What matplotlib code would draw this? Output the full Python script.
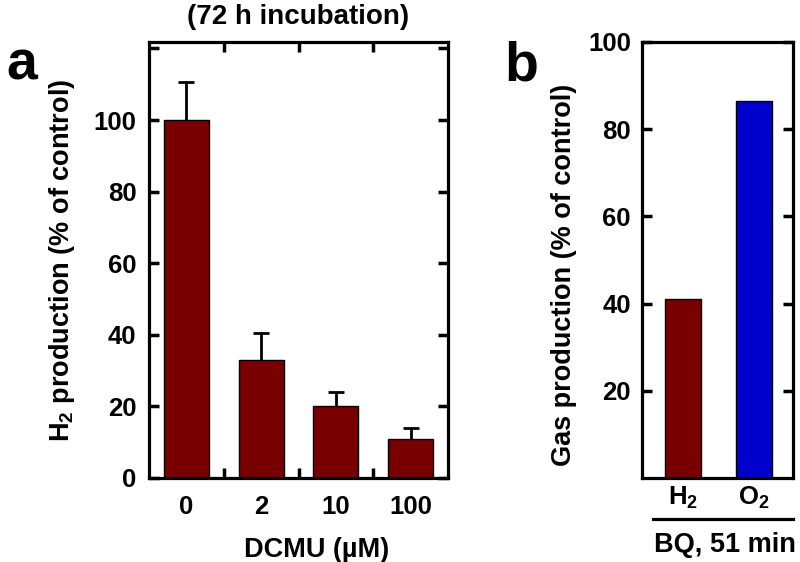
import numpy as np
import matplotlib.pyplot as plt

plt.rcParams['font.family'] = ['Liberation Sans', 'DejaVu Sans']
plt.rcParams['font.weight'] = 'bold'
plt.rcParams['axes.labelweight'] = 'bold'
plt.rcParams['mathtext.default'] = 'regular'

# panel a: H2 production after 72 h with DCMU
dcmu_labels = ['0', '2', '10', '100']
h2_values = [100, 33, 20, 11]
h2_err = [10.7, 7.6, 3.9, 3.0]

# panel b: gas production with BQ, 51 min
gas_labels = ['H$_2$', 'O$_2$']
gas_values = [41, 86.5]
gas_colors = ['#780000', '#0000CC']

dark_red = '#780000'

fig = plt.figure(figsize=(8, 5.62), dpi=100)
ax_a = fig.add_axes([0.18625, 0.1495, 0.37375, 0.7758])
ax_b = fig.add_axes([0.8025, 0.1495, 0.1888, 0.7758])

for ax in (ax_a, ax_b):
    for s in ax.spines.values():
        s.set_linewidth(2.3)

# ---- panel a
x = np.arange(len(h2_values))
ax_a.bar(x, h2_values, width=0.6, color=dark_red, edgecolor='black', linewidth=1, zorder=2)
eb = ax_a.errorbar(x, h2_values, yerr=[np.zeros(len(h2_err)), h2_err], fmt='none',
                   ecolor='black', elinewidth=2, capsize=6, capthick=2, zorder=3)
eb[1][0].set_visible(False)

ax_a.set_xlim(-0.5, 3.5)
ax_a.set_ylim(0, 121.8)
ax_a.set_yticks(np.arange(0, 121, 20))
ax_a.set_yticklabels([str(v) for v in range(0, 101, 20)] + [''])
ax_a.set_xticks(x, dcmu_labels)
ax_a.set_xticks([0.5, 1.5, 2.5], minor=True)
ax_a.tick_params(axis='x', which='major', length=0, pad=12, labelsize=18.5)
ax_a.tick_params(axis='x', which='minor', direction='in', length=7, width=2.5,
                 top=True, bottom=True)
ax_a.tick_params(axis='y', direction='in', length=7, width=2.5, left=True, right=True,
                 pad=9, labelsize=18.5)
ax_a.set_ylabel('H$_2$ production (% of control)', fontsize=19.5, labelpad=12)
ax_a.set_xlabel('DCMU (µM)', fontsize=19.5, labelpad=10)
ax_a.xaxis.set_label_coords(0.56, -0.135)
ax_a.set_title('(72 h incubation)', fontsize=20, fontweight='bold', pad=13)

# ---- panel b
xb = np.arange(len(gas_values))
ax_b.bar(xb, gas_values, width=0.5, color=gas_colors, edgecolor='black', linewidth=1, zorder=2)
ax_b.set_xlim(-0.58, 1.55)
ax_b.set_ylim(0, 100)
ax_b.set_yticks([20, 40, 60, 80, 100])
ax_b.set_xticks(xb, gas_labels)
ax_b.tick_params(axis='x', length=0, pad=5, labelsize=18.5)
ax_b.tick_params(axis='y', direction='in', length=7, width=2.5, left=True, right=True,
                 pad=8, labelsize=18.5)
ax_b.set_ylabel('Gas production (% of control)', fontsize=19.5)
ax_b.yaxis.set_label_coords(-0.43, 0.465)
ax_b.plot([0.073, 1.0], [-0.094, -0.094], transform=ax_b.transAxes, color='black',
          linewidth=2.3, clip_on=False)
ax_b.text(0.55, -0.125, 'BQ, 51 min', transform=ax_b.transAxes, ha='center', va='top',
          fontsize=19.5, fontweight='bold')

# panel letters
fig.text(0.008, 0.858, 'a', fontsize=40, fontweight='bold')
fig.text(0.631, 0.856, 'b', fontsize=40, fontweight='bold')

fig.savefig('out.png', dpi=100)
